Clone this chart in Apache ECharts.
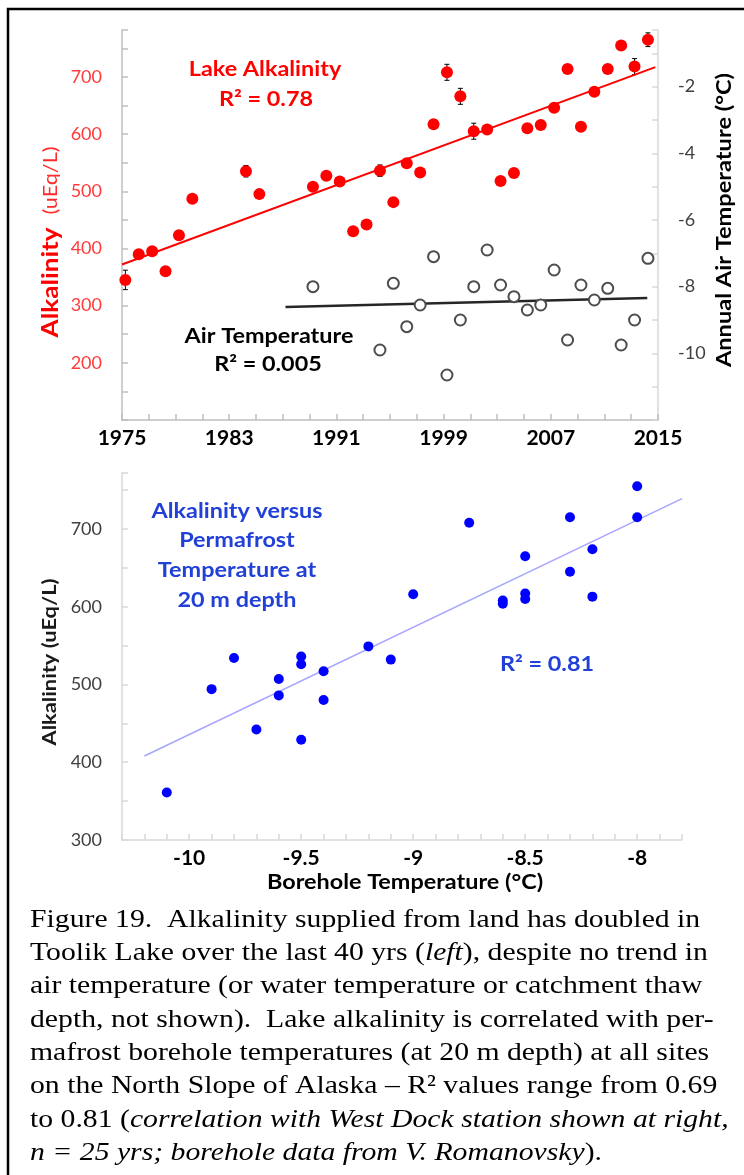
<!DOCTYPE html>
<html lang="en">
  <head>
    <meta charset="UTF-8" />
    <title>Toolik Lake alkalinity</title>
    <style>
      html, body { margin: 0; padding: 0; background: #fff; }
      #main { width: 744px; height: 1175px; }
    </style>
  </head>
  <body>
    <div id="main"></div>
    <script src="https://cdn.jsdelivr.net/npm/echarts/dist/echarts.min.js"></script>
    <script>
      // lake alkalinity (uEq/L) by year, sampled mid-season
      const alkYears = [1975, 1976, 1977, 1978, 1979, 1980, 1984, 1985, 1989, 1990, 1991, 1992, 1993, 1994, 1995, 1996, 1997,
        1998, 1999, 2000, 2001, 2002, 2003, 2004, 2005, 2006, 2007, 2008, 2009, 2010, 2011, 2012, 2013, 2014]
      const alkValues = [345, 390, 395, 360, 423, 487, 535, 495, 508, 527, 517, 430, 442, 536, 481, 549, 533,
        617, 708, 666, 605, 608, 518, 532, 610, 616, 646, 714, 613, 674, 714, 755, 718, 765]
      const seasonOffset = 0.25
      // error bars (half width, uEq/L)
      const errYears = [1975, 1984, 1994, 1999, 2000, 2001, 2013, 2014]
      const errHalf = [17, 10, 10, 14, 14, 14, 14, 12]
      // annual air temperature (°C)
      const airYears = [1989, 1994, 1995, 1996, 1997, 1998, 1999, 2000, 2001, 2002, 2003, 2004, 2005, 2006, 2007,
        2008, 2009, 2010, 2011, 2012, 2013, 2014]
      const airTemps = [-8.0, -9.9, -7.9, -9.2, -8.55, -7.1, -10.65, -9.0, -8.0, -6.9, -7.95, -8.3, -8.7, -8.55, -7.5,
        -9.6, -7.95, -8.4, -8.05, -9.75, -9.0, -7.15]
      // trendlines as drawn in the figure
      const alkTrend = [[1975, 372], [2014.8, 717]]
      const airTrend = [[1987.2, -8.61], [2014.2, -8.34]]
      // alkalinity vs borehole temperature at 20 m
      const boreTemps = [-10.1, -9.9, -9.8, -9.7, -9.6, -9.6, -9.5, -9.5, -9.5, -9.4, -9.4, -9.2, -9.1, -9.0, -8.75,
        -8.6, -8.6, -8.5, -8.5, -8.5, -8.3, -8.3, -8.2, -8.2, -8.0, -8.0]
      const boreAlk = [361, 494, 534, 442, 507, 486, 536, 526, 429, 517, 480, 549, 532, 616, 708,
        608, 604, 617, 610, 665, 715, 645, 674, 613, 755, 715]
      const boreTrend = [[-10.2, 408], [-7.8, 739]]

      const captionLines = [
        'Figure 19.  Alkalinity supplied from land has doubled in',
        'Toolik Lake over the last 40 yrs ({i|left}), despite no trend in',
        'air temperature (or water temperature or catchment thaw',
        'depth, not shown).  Lake alkalinity is correlated with per-',
        'mafrost borehole temperatures (at 20 m depth) at all sites',
        'on the North Slope of Alaska – R² values range from 0.69',
        'to 0.81 ({i|correlation with West Dock station shown at right,}',
        '{i|n = 25 yrs; borehole data from V. Romanovsky}).'
      ]

      const chart = echarts.init(document.getElementById('main'))

      const FONT = 'Lato'
      const axisGrey = '#bfbfbf'

      function txt(x, y, text, size, color, opts) {
        opts = opts || {}
        return {
          type: 'text', x: x, y: y, rotation: opts.rotation || 0, silent: true,
          scaleX: opts.stretch || 1.17,
          style: {
            text: text, fill: color, fontFamily: opts.family || FONT, fontSize: size,
            fontWeight: opts.weight || 'bold', align: opts.align || 'center', verticalAlign: 'middle',
            textAlign: opts.align || 'center', textVerticalAlign: 'middle', rich: opts.rich
          }
        }
      }

      const graphics = [
        { type: 'rect', shape: { x: 8, y: 9, width: 900, height: 1400 }, style: { fill: 'none', stroke: '#000', lineWidth: 2.5 }, silent: true },
        txt(265, 70, 'Lake Alkalinity', 20, '#ff0000'),
        txt(266, 100, 'R² = 0.78', 20, '#ff0000'),
        txt(269, 337, 'Air Temperature', 20, '#000'),
        txt(268, 365, 'R² = 0.005', 20, '#000'),
        txt(51, 242, '{a|Alkalinity}  {b|(uEq/L)}', 23, '#ff0000', {
          rotation: Math.PI / 2, stretch: 1.14,
          rich: {
            a: { fontFamily: FONT, fontSize: 23, fontWeight: 'bold', fill: '#ff0000' },
            b: { fontFamily: FONT, fontSize: 19, fontWeight: 'normal', fill: '#ff2a2a' }
          }
        }),
        txt(725, 220, 'Annual Air Temperature (°C)', 20, '#000', { rotation: Math.PI / 2, stretch: 1.18 }),
        txt(237, 512, 'Alkalinity versus', 20, '#2040d8'),
        txt(237, 541, 'Permafrost', 20, '#2040d8'),
        txt(237, 571, 'Temperature at', 20, '#2040d8'),
        txt(237, 601, '20 m depth', 20, '#2040d8'),
        txt(547, 665, 'R² = 0.81', 20, '#2040d8'),
        txt(50, 662, 'Alkalinity (uEq/L)', 19, '#1a1a1a', { rotation: Math.PI / 2, stretch: 1.15 }),
        txt(405, 883, 'Borehole Temperature (°C)', 20, '#000')
      ]
      captionLines.forEach(function (line, i) {
        graphics.push(txt(30, 920 + i * 33.3, line, 26, '#000', {
          family: 'Liberation Serif', weight: 'normal', align: 'left', stretch: 1.143,
          rich: { i: { fontFamily: 'Liberation Serif', fontSize: 26, fontStyle: 'italic', fill: '#000' } }
        }))
      })

      const tickStyle = { show: true, inside: true, length: 6, lineStyle: { color: axisGrey, width: 1.5 } }
      const minorStyle = { show: true, splitNumber: 2, length: 6, lineStyle: { color: axisGrey, width: 1.5 } }

      const option = {
        animation: false,
        backgroundColor: '#fff',
        textStyle: { fontFamily: FONT },
        graphic: graphics,
        grid: [
          { left: 122, top: 30, width: 536, height: 390 },
          { left: 122, top: 473, width: 560, height: 367 }
        ],
        xAxis: [
          {
            type: 'value', gridIndex: 0, min: 1975, max: 2015, interval: 2,
            axisLine: { lineStyle: { color: axisGrey, width: 1.5 } },
            axisTick: tickStyle, splitLine: { show: false },
            axisLabel: {
              margin: 8, color: '#000', fontWeight: 'bold', fontSize: 21,
              formatter: function (v) { return (v - 1975) % 8 === 0 ? String(v) : '' }
            }
          },
          {
            type: 'value', gridIndex: 1, min: -10.3, max: -7.8, interval: 0.1,
            axisLine: { lineStyle: { color: '#d9d9d9', width: 1.5 } },
            axisTick: { show: true, inside: true, length: 6, lineStyle: { color: '#d9d9d9', width: 1.5 } },
            splitLine: { show: false },
            axisLabel: {
              margin: 8, color: '#000', fontWeight: 'bold', fontSize: 21,
              formatter: function (v) {
                return Math.abs(v * 2 - Math.round(v * 2)) < 1e-6 ? String(Math.round(v * 10) / 10) : ''
              }
            }
          }
        ],
        yAxis: [
          {
            type: 'value', gridIndex: 0, min: 100, max: 782, interval: 100,
            axisLine: { show: true, lineStyle: { color: axisGrey, width: 1.5 } },
            axisTick: tickStyle, minorTick: minorStyle, splitLine: { show: false },
            axisLabel: { margin: 20, color: '#ff3b3b', fontSize: 18, showMinLabel: false, showMaxLabel: false }
          },
          {
            type: 'value', gridIndex: 0, position: 'right', min: -12, max: -0.3, interval: 2,
            axisLine: { show: true, lineStyle: { color: '#d9d9d9', width: 1.5 } },
            axisTick: { show: true, inside: true, length: 6, lineStyle: { color: '#d9d9d9', width: 1.5 } },
            minorTick: { show: true, splitNumber: 2, length: 6, lineStyle: { color: '#d9d9d9', width: 1.5 } },
            splitLine: { show: false },
            axisLabel: { margin: 20, color: '#404040', fontSize: 18, showMinLabel: false, showMaxLabel: false }
          },
          {
            type: 'value', gridIndex: 1, min: 300, max: 772, interval: 100,
            axisLine: { show: true, lineStyle: { color: '#d9d9d9', width: 1.5 } },
            axisTick: { show: true, inside: true, length: 6, lineStyle: { color: '#d9d9d9', width: 1.5 } },
            minorTick: { show: true, splitNumber: 2, length: 6, lineStyle: { color: '#d9d9d9', width: 1.5 } },
            splitLine: { show: false },
            axisLabel: { margin: 20, color: '#404040', fontSize: 18, showMaxLabel: false }
          }
        ],
        series: [
          {
            name: 'error', type: 'custom', xAxisIndex: 0, yAxisIndex: 0, z: 1,
            encode: { x: 0, y: [1, 2] },
            data: errYears.map(function (yr, i) {
              const v = alkValues[alkYears.indexOf(yr)]
              return [yr + seasonOffset, v - errHalf[i], v + errHalf[i]]
            }),
            renderItem: function (params, api) {
              const lo = api.coord([api.value(0), api.value(1)])
              const hi = api.coord([api.value(0), api.value(2)])
              const w = 2.5
              const st = { stroke: '#000', lineWidth: 1 }
              return {
                type: 'group', children: [
                  { type: 'line', shape: { x1: lo[0], y1: lo[1], x2: hi[0], y2: hi[1] }, style: st },
                  { type: 'line', shape: { x1: lo[0] - w, y1: lo[1], x2: lo[0] + w, y2: lo[1] }, style: st },
                  { type: 'line', shape: { x1: hi[0] - w, y1: hi[1], x2: hi[0] + w, y2: hi[1] }, style: st }
                ]
              }
            }
          },
          {
            name: 'Lake Alkalinity', type: 'scatter', xAxisIndex: 0, yAxisIndex: 0, z: 3,
            symbolSize: 12, itemStyle: { color: '#ff0000', opacity: 1 },
            data: alkYears.map(function (yr, i) { return [yr + seasonOffset, alkValues[i]] })
          },
          {
            name: 'alk trend', type: 'line', xAxisIndex: 0, yAxisIndex: 0, z: 2,
            symbol: 'none', lineStyle: { color: '#ff0000', width: 2 }, data: alkTrend
          },
          {
            name: 'air trend', type: 'line', xAxisIndex: 0, yAxisIndex: 1, z: 2,
            symbol: 'none', lineStyle: { color: '#262626', width: 2.5 }, data: airTrend
          },
          {
            name: 'Air Temperature', type: 'scatter', xAxisIndex: 0, yAxisIndex: 1, z: 3,
            symbol: 'emptyCircle', symbolSize: 11,
            itemStyle: { color: '#4d4d4d', borderColor: '#4d4d4d', borderWidth: 1.5, opacity: 1 },
            data: airYears.map(function (yr, i) { return [yr + seasonOffset, airTemps[i]] })
          },
          {
            name: 'bore trend', type: 'line', xAxisIndex: 1, yAxisIndex: 2, z: 2,
            symbol: 'none', lineStyle: { color: '#a6a6ff', width: 1.5 }, data: boreTrend
          },
          {
            name: 'Borehole', type: 'scatter', xAxisIndex: 1, yAxisIndex: 2, z: 3,
            symbolSize: 10, itemStyle: { color: '#0000ff', opacity: 1 },
            data: boreTemps.map(function (t, i) { return [t, boreAlk[i]] })
          }
        ]
      }

      chart.setOption(option)
    </script>
  </body>
</html>
